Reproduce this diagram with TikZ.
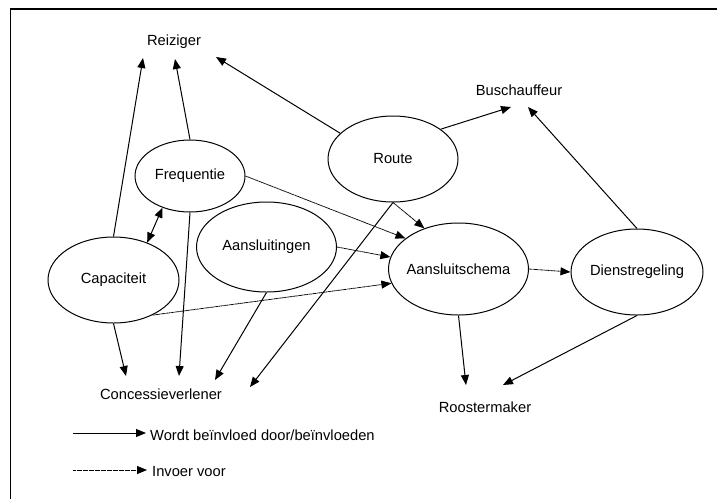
\documentclass[tikz,border=0pt]{standalone}
\usepackage{fontspec}
\setmainfont{Liberation Sans}
\usetikzlibrary{arrows.meta,shapes.geometric,calc}
\begin{document}
\begin{tikzpicture}[x=1pt,y=-1pt,
  every node/.style={font=\fontsize{14.7}{17}\selectfont},
  state/.style={ellipse,draw,line width=1pt,inner sep=0pt},
  actor/.style={inner sep=0pt},
  tip/.tip={Triangle[length=10pt,width=8pt]},
  infl/.style={line width=1pt,-tip},
  input/.style={line width=0.8pt,dash pattern=on 0.8pt off 0.4pt,-tip}]
\useasboundingbox (0,0) rectangle (717,499);

% frame
\draw[line width=2pt] (10,9) -- (717,9);
\draw[line width=1pt] (10.5,8) -- (10.5,499);

% factors
\node[state,minimum width=110pt,minimum height=72pt,label=center:Frequentie] (freq) at (190,176) {};
\node[state,minimum width=130pt,minimum height=86pt,label=center:Route] (route) at (393,159) {};
\node[state,minimum width=140pt,minimum height=90pt,label=center:Aansluitingen] (aans) at (266.5,247) {};
\node[state,minimum width=131pt,minimum height=86pt,label=center:Capaciteit] (cap) at (113.5,280) {};
\node[state,minimum width=140pt,minimum height=92pt,label=center:Aansluitschema] (schema) at (458.5,269) {};
\node[state,minimum width=132pt,minimum height=86pt,label=center:Dienstregeling] (dienst) at (637,272) {};

% actors
\node[actor] (reiz) at (174,42) {Reiziger};
\node[actor] (bus) at (519,90) {Buschauffeur};
\node[actor] (conc) at (161,394) {Concessieverlener};
\node[actor] (rooster) at (485,407) {Roostermaker};

% influence
\draw[infl] (cap.north) -- ($(reiz)+(-31,16)$);
\draw[infl] (freq.north) -- ($(reiz)+(1,17)$);
\draw[infl] (route.154) -- ($(reiz)+(42,15)$);
\draw[infl] (route.32) -- ($(bus)+(-8,17)$);
\draw[infl] (dienst.north) -- ($(bus)+(9,17)$);
\draw[line width=1pt,tip-tip] (freq.229) -- (cap.48);
\draw[infl] (freq.south) -- ($(conc)+(18,-18)$);
\draw[infl] (cap.south) -- ($(conc)+(-35,-18)$);
\draw[infl] (aans.south) -- ($(conc)+(54,-14)$);
\draw[infl] (route.south) -- ($(conc)+(89,-7)$);
\draw[infl] (schema.south) -- ($(rooster)+(-19,-22)$);
\draw[infl] (dienst.south) -- ($(rooster)+(18,-22)$);

% input
\draw[input] (route.south) -- (schema.130);
\draw[input] (freq.east) -- (schema.150);
\draw[input] (aans.east) -- (schema.170);
\draw[input] (cap.-42) -- (schema.192);
\draw[input] (schema.east) -- (dienst.west);

% legend
\node[actor,anchor=west] (leg1) at (150,435) {Wordt beïnvloed door/beïnvloeden};
\node[actor,anchor=west] (leg2) at (152,472) {Invoer voor};
\coordinate (l1) at (73,433);
\coordinate (l2) at (73,470);
\draw[infl] (l1) -- ($(l1 -| leg1.west)+(-4,0)$);
\draw[input] (l2) -- ($(l2 -| leg2.west)+(-5,0)$);
\end{tikzpicture}
\end{document}
